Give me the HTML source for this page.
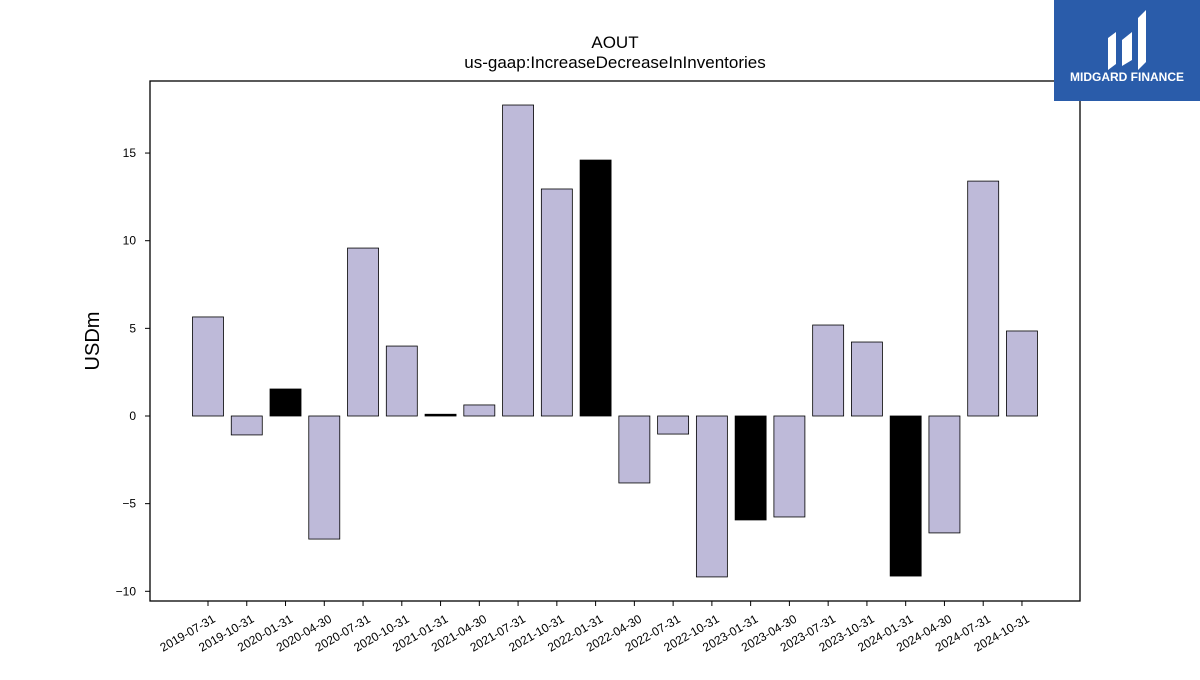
<!DOCTYPE html>
<html><head><meta charset="utf-8"><style>
body{margin:0;background:#fff;width:1200px;height:675px;overflow:hidden;font-family:"Liberation Sans",sans-serif}
</style></head><body>
<svg width="1200" height="675" xmlns="http://www.w3.org/2000/svg">
<text x="615" y="48" font-size="17" text-anchor="middle">AOUT</text>
<text x="615" y="68" font-size="17" text-anchor="middle">us-gaap:IncreaseDecreaseInInventories</text>
<text transform="translate(99,341) rotate(-90)" font-size="20" text-anchor="middle">USDm</text>
<g id="bars"></g><g id="yt"></g><g id="xt"></g>
<rect x="150" y="81" width="930" height="520" fill="none" stroke="#000" stroke-width="1.3"/>
<g>
<rect x="1054" y="0" width="146" height="101" fill="#2a5caa"/>
<path d="M1108 70 L1108 38 L1116 32 L1116 64 Z M1122 66 L1122 40 L1132 32 L1132 60 Z M1138 70 L1138 18 L1146 10 L1146 62 Z" fill="#fff"/>
<text x="1127" y="81" font-size="12" font-weight="bold" fill="#fff" text-anchor="middle">MIDGARD FINANCE</text>
</g>
</svg>
<script>
const categories=["2019-07-31","2019-10-31","2020-01-31","2020-04-30","2020-07-31","2020-10-31","2021-01-31","2021-04-30","2021-07-31","2021-10-31","2022-01-31","2022-04-30","2022-07-31","2022-10-31","2023-01-31","2023-04-30","2023-07-31","2023-10-31","2024-01-31","2024-04-30","2024-07-31","2024-10-31"];
const values=[5.65,-1.08,1.54,-7.02,9.58,3.99,0.1,0.63,17.74,12.95,14.6,-3.82,-1.03,-9.18,-5.93,-5.76,5.19,4.22,-9.13,-6.67,13.4,4.85];
const yTicks=[-10,-5,0,5,10,15];
const yTickLabels=["\u221210","\u22125","0","5","10","15"];
const NS="http://www.w3.org/2000/svg";
const y=v=>416-v*17.53;
const x=i=>208+i*38.76;
const bw=31;
const bars=document.getElementById('bars'),yt=document.getElementById('yt'),xt=document.getElementById('xt');
function mk(t,a){const e=document.createElementNS(NS,t);for(const k in a)e.setAttribute(k,a[k]);return e;}
values.forEach((v,i)=>{
 const r=mk('rect',{x:x(i)-bw/2,y:Math.min(y(v),y(0)),width:bw,height:Math.max(Math.abs(y(v)-y(0)),1),fill:categories[i].endsWith('01-31')?'#000':'#bebad9',stroke:'#000','stroke-width':0.8});
 
 
 bars.appendChild(r);
 const tk=mk('line',{x1:x(i),x2:x(i),y1:601,y2:606,stroke:'#000'});
 
 
 xt.appendChild(tk);
 const t=mk('text',{'font-size':12,'text-anchor':'end',transform:`translate(${x(i)+4},${614}) rotate(-30)`,dy:'0.7em'});
 t.textContent=categories[i];
 
 
 xt.appendChild(t);
});
yTicks.forEach((v,i)=>{
 const tk=mk('line',{x1:145,x2:150,y1:y(v),y2:y(v),stroke:'#000'});
 
 
 yt.appendChild(tk);
 const t=mk('text',{x:136,y:y(v)+4,'font-size':12,'text-anchor':'end'});
 t.textContent=yTickLabels[i];
 
 
 yt.appendChild(t);
});
</script>
</body></html>
